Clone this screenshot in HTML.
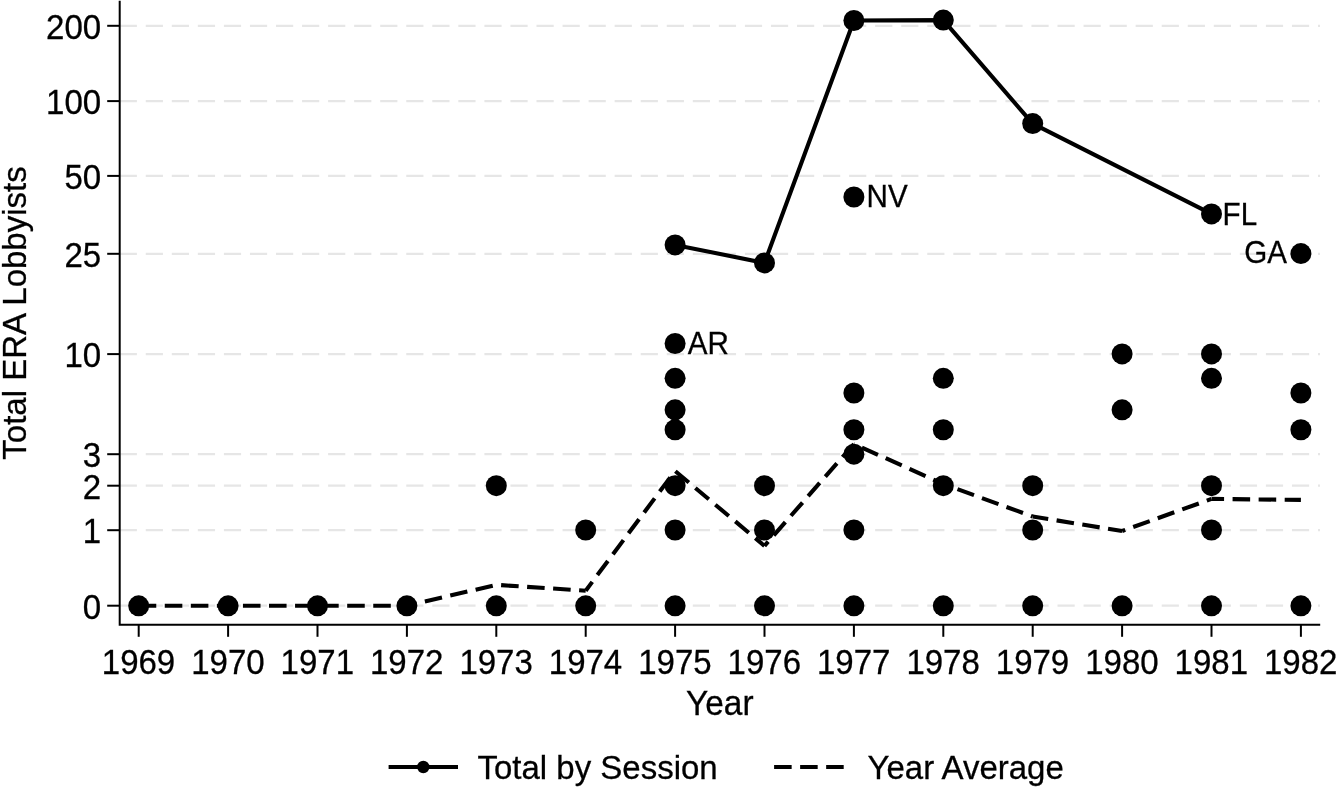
<!DOCTYPE html>
<html lang="en"><head><meta charset="utf-8"><title>Total ERA Lobbyists by Year</title>
<style>html,body{margin:0;padding:0;background:#fff}body{width:1338px;height:788px;overflow:hidden}svg{display:block}text{font-family:"Liberation Sans",Arial,sans-serif;fill:#000;stroke:#000;stroke-width:0.28}</style></head><body>
<svg width="1338" height="788" viewBox="0 0 1338 788">
<rect width="1338" height="788" fill="#fff"/>
<g stroke="#e6e6e6" stroke-width="2.3" stroke-dasharray="17.2 8.85" fill="none">
<line x1="119.7" y1="25.8" x2="1320" y2="25.8"/>
<line x1="119.7" y1="101.1" x2="1320" y2="101.1"/>
<line x1="119.7" y1="175.9" x2="1320" y2="175.9"/>
<line x1="119.7" y1="253.8" x2="1320" y2="253.8"/>
<line x1="119.7" y1="354.1" x2="1320" y2="354.1"/>
<line x1="119.7" y1="454.2" x2="1320" y2="454.2"/>
<line x1="119.7" y1="485.7" x2="1320" y2="485.7"/>
<line x1="119.7" y1="530.2" x2="1320" y2="530.2"/>
<line x1="119.7" y1="605.7" x2="1320" y2="605.7"/>
</g>
<g stroke="#000" stroke-width="2" fill="none">
<path d="M119.7 0.8V624.7H1320.2"/>
<line x1="107.2" y1="25.8" x2="119.7" y2="25.8"/>
<line x1="107.2" y1="101.1" x2="119.7" y2="101.1"/>
<line x1="107.2" y1="175.9" x2="119.7" y2="175.9"/>
<line x1="107.2" y1="253.8" x2="119.7" y2="253.8"/>
<line x1="107.2" y1="354.1" x2="119.7" y2="354.1"/>
<line x1="107.2" y1="454.2" x2="119.7" y2="454.2"/>
<line x1="107.2" y1="485.7" x2="119.7" y2="485.7"/>
<line x1="107.2" y1="530.2" x2="119.7" y2="530.2"/>
<line x1="107.2" y1="605.7" x2="119.7" y2="605.7"/>
<line x1="138.70" y1="624.7" x2="138.70" y2="636.8"/>
<line x1="228.10" y1="624.7" x2="228.10" y2="636.8"/>
<line x1="317.50" y1="624.7" x2="317.50" y2="636.8"/>
<line x1="406.90" y1="624.7" x2="406.90" y2="636.8"/>
<line x1="496.30" y1="624.7" x2="496.30" y2="636.8"/>
<line x1="585.70" y1="624.7" x2="585.70" y2="636.8"/>
<line x1="675.10" y1="624.7" x2="675.10" y2="636.8"/>
<line x1="764.50" y1="624.7" x2="764.50" y2="636.8"/>
<line x1="853.90" y1="624.7" x2="853.90" y2="636.8"/>
<line x1="943.30" y1="624.7" x2="943.30" y2="636.8"/>
<line x1="1032.70" y1="624.7" x2="1032.70" y2="636.8"/>
<line x1="1122.10" y1="624.7" x2="1122.10" y2="636.8"/>
<line x1="1211.50" y1="624.7" x2="1211.50" y2="636.8"/>
<line x1="1300.90" y1="624.7" x2="1300.90" y2="636.8"/>
</g>
<text transform="translate(101.10 38.60) scale(1 1.06)" font-size="33" text-anchor="end">200</text>
<text transform="translate(101.10 113.90) scale(1 1.06)" font-size="33" text-anchor="end">100</text>
<text transform="translate(101.10 188.70) scale(1 1.06)" font-size="33" text-anchor="end">50</text>
<text transform="translate(101.10 266.60) scale(1 1.06)" font-size="33" text-anchor="end">25</text>
<text transform="translate(101.10 366.90) scale(1 1.06)" font-size="33" text-anchor="end">10</text>
<text transform="translate(101.10 467.00) scale(1 1.06)" font-size="33" text-anchor="end">3</text>
<text transform="translate(101.10 498.50) scale(1 1.06)" font-size="33" text-anchor="end">2</text>
<text transform="translate(101.10 543.00) scale(1 1.06)" font-size="33" text-anchor="end">1</text>
<text transform="translate(101.10 618.50) scale(1 1.06)" font-size="33" text-anchor="end">0</text>
<text transform="translate(138.50 673.80) scale(1 1.06)" font-size="33" text-anchor="middle">1969</text>
<text transform="translate(227.90 673.80) scale(1 1.06)" font-size="33" text-anchor="middle">1970</text>
<text transform="translate(317.30 673.80) scale(1 1.06)" font-size="33" text-anchor="middle">1971</text>
<text transform="translate(406.70 673.80) scale(1 1.06)" font-size="33" text-anchor="middle">1972</text>
<text transform="translate(496.10 673.80) scale(1 1.06)" font-size="33" text-anchor="middle">1973</text>
<text transform="translate(585.50 673.80) scale(1 1.06)" font-size="33" text-anchor="middle">1974</text>
<text transform="translate(674.90 673.80) scale(1 1.06)" font-size="33" text-anchor="middle">1975</text>
<text transform="translate(764.30 673.80) scale(1 1.06)" font-size="33" text-anchor="middle">1976</text>
<text transform="translate(853.70 673.80) scale(1 1.06)" font-size="33" text-anchor="middle">1977</text>
<text transform="translate(943.10 673.80) scale(1 1.06)" font-size="33" text-anchor="middle">1978</text>
<text transform="translate(1032.50 673.80) scale(1 1.06)" font-size="33" text-anchor="middle">1979</text>
<text transform="translate(1121.90 673.80) scale(1 1.06)" font-size="33" text-anchor="middle">1980</text>
<text transform="translate(1211.30 673.80) scale(1 1.06)" font-size="33" text-anchor="middle">1981</text>
<text transform="translate(1300.70 673.80) scale(1 1.06)" font-size="33" text-anchor="middle">1982</text>
<text transform="translate(719.80 714.60) scale(1 1.03)" font-size="33.4" text-anchor="middle">Year</text>
<text transform="translate(26.00 313.00) rotate(-90) scale(1 1.03)" font-size="33" text-anchor="middle">Total ERA Lobbyists</text>
<g fill="none" stroke="#000" stroke-width="4.1" stroke-dasharray="17.57 8.49">
<line x1="138.70" y1="605.7" x2="228.10" y2="605.7" stroke-dashoffset="0.00"/>
<line x1="228.10" y1="605.7" x2="317.50" y2="605.7" stroke-dashoffset="11.22"/>
<line x1="317.50" y1="605.7" x2="406.90" y2="605.7" stroke-dashoffset="22.44"/>
<line x1="406.90" y1="605.7" x2="496.30" y2="584.8" stroke-dashoffset="7.60"/>
<line x1="496.30" y1="584.8" x2="585.70" y2="590.7" stroke-dashoffset="21.23"/>
<line x1="585.70" y1="590.7" x2="675.10" y2="471.0" stroke-dashoffset="6.58"/>
<line x1="675.10" y1="471.0" x2="764.50" y2="545.9" stroke-dashoffset="25.69"/>
<line x1="764.50" y1="545.9" x2="853.90" y2="444.0" stroke-dashoffset="12.01"/>
<line x1="853.90" y1="444.0" x2="943.30" y2="484.0" stroke-dashoffset="17.27"/>
<line x1="943.30" y1="484.0" x2="1032.70" y2="516.5" stroke-dashoffset="10.97"/>
<line x1="1032.70" y1="516.5" x2="1122.10" y2="531.0" stroke-dashoffset="1.86"/>
<line x1="1122.10" y1="531.0" x2="1211.50" y2="498.9" stroke-dashoffset="14.25"/>
<line x1="1211.50" y1="498.9" x2="1300.90" y2="499.9" stroke-dashoffset="4.99"/>
</g>
<polyline points="675.10,244.9 764.50,262.9 853.90,20.5 943.30,20.1 1032.70,123.6 1211.50,213.9" fill="none" stroke="#000" stroke-width="4.1" stroke-linejoin="round"/>
<g fill="#000">
<circle cx="138.70" cy="605.85" r="10.5"/>
<circle cx="228.10" cy="605.85" r="10.5"/>
<circle cx="317.50" cy="605.85" r="10.5"/>
<circle cx="406.90" cy="605.85" r="10.5"/>
<circle cx="496.30" cy="605.85" r="10.5"/>
<circle cx="496.30" cy="485.66" r="10.5"/>
<circle cx="585.70" cy="605.85" r="10.5"/>
<circle cx="585.70" cy="530.02" r="10.5"/>
<circle cx="675.10" cy="605.85" r="10.5"/>
<circle cx="675.10" cy="530.02" r="10.5"/>
<circle cx="675.10" cy="485.66" r="10.5"/>
<circle cx="675.10" cy="429.78" r="10.5"/>
<circle cx="675.10" cy="409.83" r="10.5"/>
<circle cx="675.10" cy="378.36" r="10.5"/>
<circle cx="675.10" cy="343.52" r="10.5"/>
<circle cx="764.50" cy="605.85" r="10.5"/>
<circle cx="764.50" cy="530.02" r="10.5"/>
<circle cx="764.50" cy="485.66" r="10.5"/>
<circle cx="853.90" cy="605.85" r="10.5"/>
<circle cx="853.90" cy="530.02" r="10.5"/>
<circle cx="853.90" cy="454.19" r="10.5"/>
<circle cx="853.90" cy="429.78" r="10.5"/>
<circle cx="853.90" cy="392.97" r="10.5"/>
<circle cx="943.30" cy="605.85" r="10.5"/>
<circle cx="943.30" cy="485.66" r="10.5"/>
<circle cx="943.30" cy="429.78" r="10.5"/>
<circle cx="943.30" cy="378.36" r="10.5"/>
<circle cx="1032.70" cy="605.85" r="10.5"/>
<circle cx="1032.70" cy="530.02" r="10.5"/>
<circle cx="1032.70" cy="485.66" r="10.5"/>
<circle cx="1122.10" cy="605.85" r="10.5"/>
<circle cx="1122.10" cy="409.83" r="10.5"/>
<circle cx="1122.10" cy="353.95" r="10.5"/>
<circle cx="1211.50" cy="605.85" r="10.5"/>
<circle cx="1211.50" cy="530.02" r="10.5"/>
<circle cx="1211.50" cy="485.66" r="10.5"/>
<circle cx="1211.50" cy="378.36" r="10.5"/>
<circle cx="1211.50" cy="353.95" r="10.5"/>
<circle cx="1300.90" cy="605.85" r="10.5"/>
<circle cx="1300.90" cy="429.78" r="10.5"/>
<circle cx="1300.90" cy="392.97" r="10.5"/>
<circle cx="675.10" cy="244.9" r="10.5"/>
<circle cx="764.50" cy="262.9" r="10.5"/>
<circle cx="853.90" cy="20.5" r="10.5"/>
<circle cx="943.30" cy="20.1" r="10.5"/>
<circle cx="1032.70" cy="123.6" r="10.5"/>
<circle cx="1211.50" cy="213.9" r="10.5"/>
<circle cx="853.90" cy="197.0" r="10.5"/>
<circle cx="1300.90" cy="253.6" r="10.5"/>
</g>
<text transform="translate(687.70 353.60) scale(1 1.035)" font-size="29.6" text-anchor="start">AR</text>
<text transform="translate(866.60 206.50) scale(1 1.035)" font-size="29.6" text-anchor="start">NV</text>
<text transform="translate(1222.60 225.40) scale(1 1.035)" font-size="29.6" text-anchor="start">FL</text>
<text transform="translate(1287.10 263.10) scale(1 1.035)" font-size="29.6" text-anchor="end">GA</text>
<line x1="388.6" y1="767" x2="458" y2="767" stroke="#000" stroke-width="4.1"/>
<circle cx="423.3" cy="767" r="6.2"/>
<line x1="774.1" y1="767" x2="843.7" y2="767" stroke="#000" stroke-width="4.1" stroke-dasharray="17.55 8.48"/>
<text transform="translate(477.50 779.20) scale(1 1.03)" font-size="33" text-anchor="start">Total by Session</text>
<text transform="translate(867.50 779.20) scale(1 1.03)" font-size="33" text-anchor="start">Year Average</text>
</svg></body></html>
